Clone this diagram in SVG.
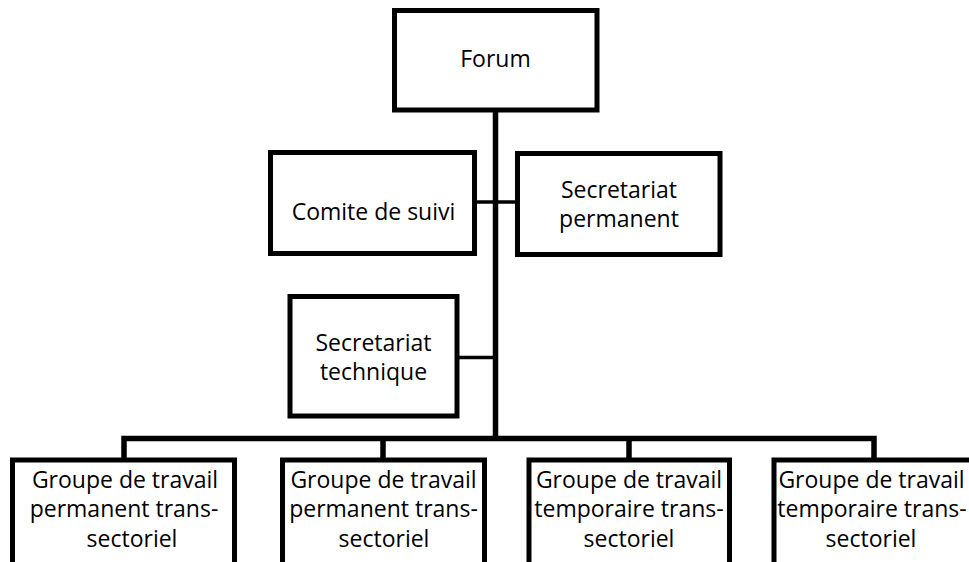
<svg xmlns="http://www.w3.org/2000/svg" width="969" height="562" viewBox="0 0 969 562">
<style>
.box{fill:#fff;stroke:#000;stroke-width:5;}
.t{font-family:"Open Sans","Liberation Sans",sans-serif;font-size:23px;fill:#000;text-anchor:middle;}
.main{fill:none;stroke:#000;stroke-width:5.5;}
.side{fill:none;stroke:#000;stroke-width:3.5;}
</style>
<rect width="969" height="562" fill="#fff"/>
<g id="connectors">
<line class="main" x1="495.5" y1="110" x2="495.5" y2="441"/>
<line class="side" x1="474.5" y1="202" x2="517.5" y2="202"/>
<line class="side" x1="457" y1="357.5" x2="495.5" y2="357.5"/>
<path class="main" d="M124,460 V438.5 H874 V460"/>
<line class="main" x1="383" y1="438.5" x2="383" y2="460"/>
<line class="main" x1="629" y1="438.5" x2="629" y2="460"/>
</g>
<g id="forum">
<rect class="box" x="394.5" y="10.5" width="202.5" height="99.5"/>
<text class="t" x="495.5" y="67">Forum</text>
</g>
<g id="comite">
<rect class="box" x="270.5" y="152.5" width="204" height="101"/>
<text class="t" x="373.5" y="220">Comite de suivi</text>
</g>
<g id="secretariat-permanent">
<rect class="box" x="517.5" y="153.5" width="202.5" height="101"/>
<text class="t" x="619" y="198">Secretariat</text>
<text class="t" x="619" y="227">permanent</text>
</g>
<g id="secretariat-technique">
<rect class="box" x="290" y="296.5" width="167" height="119.5"/>
<text class="t" x="373.5" y="351">Secretariat</text>
<text class="t" x="373.5" y="380">technique</text>
</g>
<g id="groupe1">
<rect class="box" x="12.5" y="460" width="222" height="110"/>
<text class="t" x="125" y="487.5">Groupe de travail</text>
<text class="t" x="124" y="517">permanent trans-</text>
<text class="t" x="132" y="546.5">sectoriel</text>
</g>
<g id="groupe2">
<rect class="box" x="282.5" y="460" width="202" height="110"/>
<text class="t" x="383.5" y="487.5">Groupe de travail</text>
<text class="t" x="383.5" y="517">permanent trans-</text>
<text class="t" x="384" y="546.5">sectoriel</text>
</g>
<g id="groupe3">
<rect class="box" x="529" y="460" width="200.5" height="110"/>
<text class="t" x="629" y="487.5">Groupe de travail</text>
<text class="t" x="629" y="517">temporaire trans-</text>
<text class="t" x="629" y="546.5">sectoriel</text>
</g>
<g id="groupe4">
<rect class="box" x="774" y="460" width="202" height="110"/>
<text class="t" x="871.5" y="487.5">Groupe de travail</text>
<text class="t" x="872" y="517">temporaire trans-</text>
<text class="t" x="871" y="546.5">sectoriel</text>
</g>
</svg>
